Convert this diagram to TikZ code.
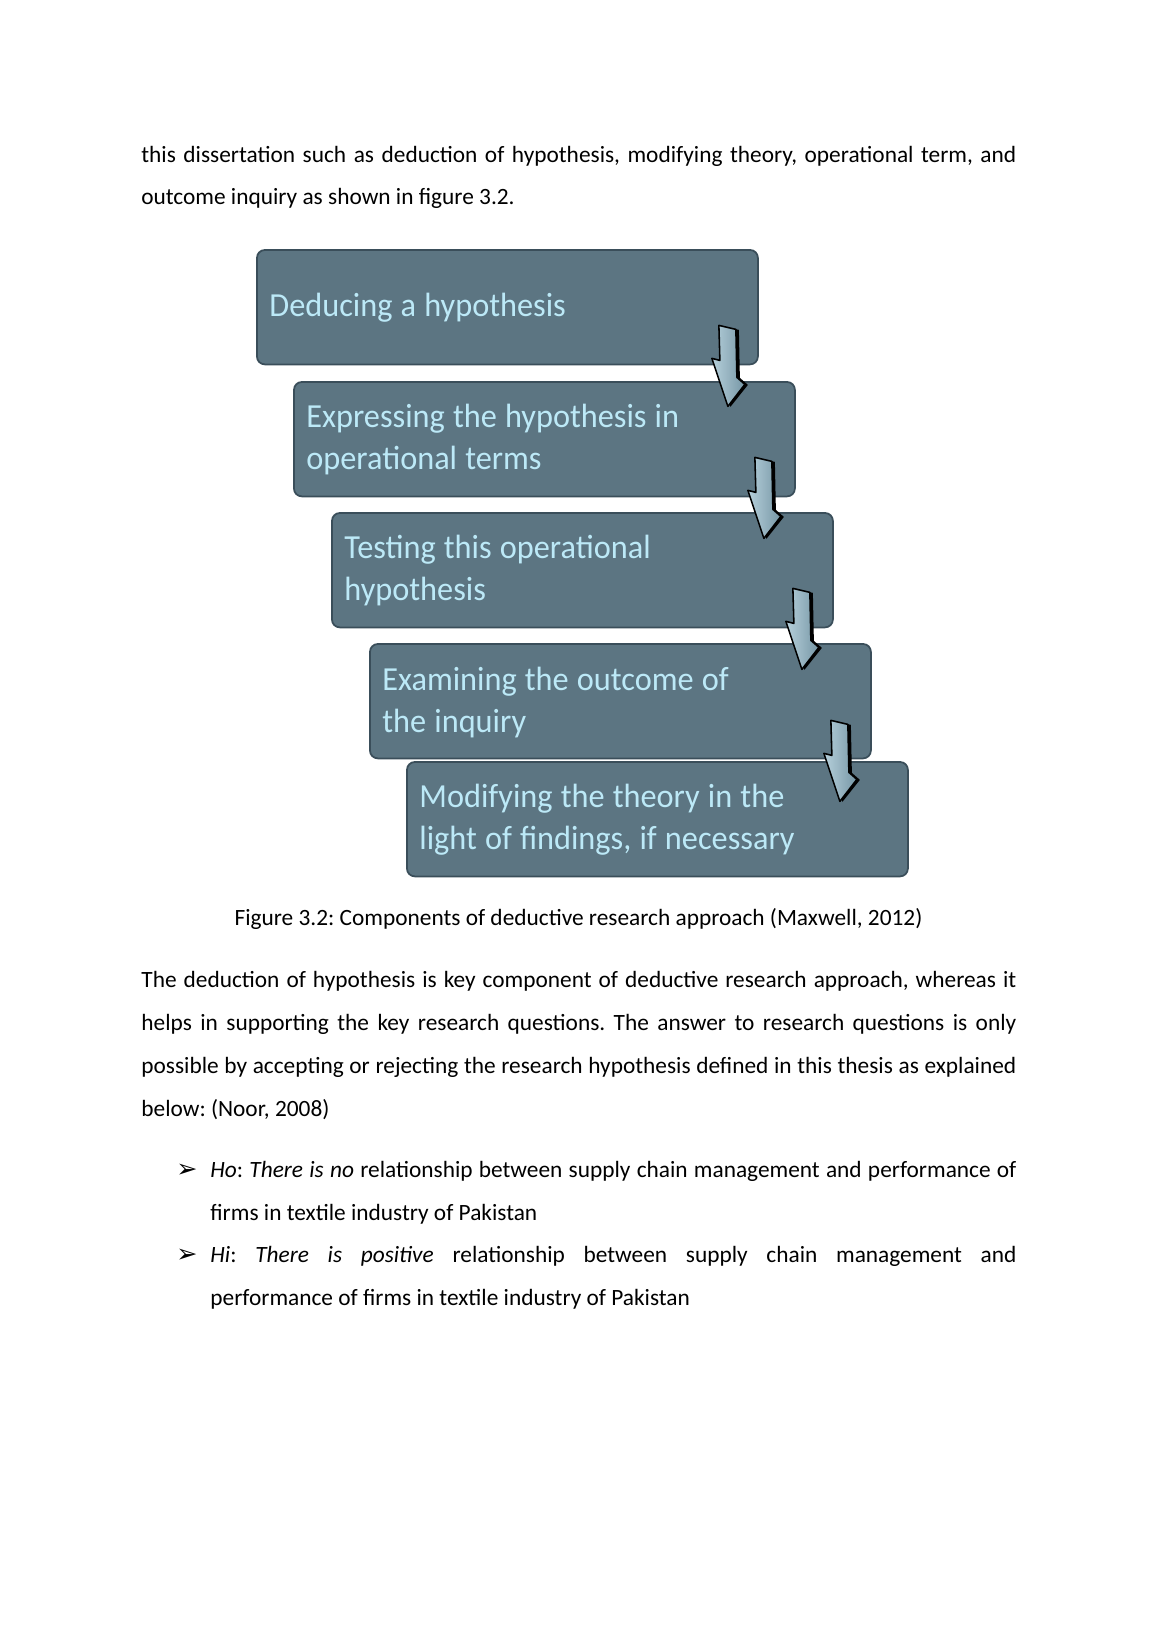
\documentclass[tikz,border=0pt]{standalone}
\usepackage{fontspec}
\setmainfont{Carlito}
\newfontfamily\boxfont[FakeStretch=0.96]{Carlito}
\newfontfamily\symfont{DejaVu Sans}
\usetikzlibrary{calc,backgrounds}
\frenchspacing
\newcommand\tightsp{\spaceskip=4.2pt plus 1pt minus 0.5pt\relax}
\definecolor{boxfill}{RGB}{92,117,130}
\definecolor{boxedge}{RGB}{58,78,90}
\definecolor{boxglow}{RGB}{135,194,216}
\definecolor{boxtext}{RGB}{188,233,247}
\definecolor{arrowlight}{RGB}{182,208,219}
\definecolor{arrowdark}{RGB}{118,150,165}
\tikzset{
  stepbox/.style={rectangle, rounded corners=4pt, inner sep=0pt, outer sep=0pt,
    minimum width=257.5pt, minimum height=58.8pt, fill=boxfill, draw=boxedge,
    line width=0.9pt, anchor=north west},
  boxtxt/.style={anchor=base west, inner sep=0pt, text=boxtext, text width=240pt,
    align=left, font=\boxfont\fontsize{17.3}{21.6}\selectfont},
  bodytxt/.style={anchor=base west, inner sep=0pt, align=justify,
    font=\fontsize{12}{22.1}\selectfont},
  bullsym/.style={anchor=base west, inner sep=0pt, font=\symfont\fontsize{13}{14}\selectfont},
  downarr/.pic={
    \fill[black] (2.5,0.5) -- (-13.5,-47.5) -- (-5.5,-45.5) -- (-6.5,-80.5) -- (11,-76.5)
      -- (12,-28.5) -- (20,-21.5) -- cycle;
    \path[left color=arrowlight, right color=arrowdark, draw=black, line width=0.8pt,
      line join=round]
      (0,0) -- (-16,-48) -- (-8,-46) -- (-9,-81) -- (8,-77) -- (9,-29) -- (17,-22) -- cycle;
  }
}
\begin{document}
\begin{tikzpicture}[x=0.5141pt, y=-0.5141pt]
\useasboundingbox (0,0) rectangle (1158,1638);
\fill[white] (0,0) rectangle (1158,1638);

% text above figure
\node[bodytxt, text width=449.8pt] (p1) at (141,162)
 {this dissertation such as deduction of hypothesis, modifying theory, operational term, and\linebreak
  outcome inquiry as shown in figure 3.2.};

% boxes
\node[stepbox] (b1) at (257,250) {};
\node[stepbox] (b2) at (294,382) {};
\node[stepbox] (b3) at (332,513) {};
\node[stepbox] (b4) at (370,644) {};
\node[stepbox] (b5) at (407,762) {};

\begin{scope}[on background layer]
\foreach \b in {b1,b2,b3,b4,b5}{
  \fill[boxglow, rounded corners=5pt] ($(\b.north west)+(-3.5,-4.5)$) rectangle ($(\b.south east)+(3.5,1)$);
  \fill[boxedge!85!black, rounded corners=5pt] ($(\b.north west)+(-1,3)$) rectangle ($(\b.south east)+(1.5,3.5)$);
}
\end{scope}

% box texts
\node[boxtxt] (t1) at ($(b1.north west)+(12,66)$) {\tightsp Deducing a hypothesis};
\node[boxtxt] (t2) at ($(b2.north west)+(12,45)$) {\tightsp Expressing the hypothesis in\\operational terms};
\node[boxtxt] (t3) at ($(b3.north west)+(12,45)$) {\tightsp Testing this operational\\hypothesis};
\node[boxtxt] (t4) at ($(b4.north west)+(12,46)$) {\tightsp Examining the outcome of\\the inquiry};
\node[boxtxt] (t5) at ($(b5.north west)+(12,45)$) {\tightsp Modifying the theory in the\\light of findings, if necessary};

% arrows between boxes
\coordinate (a1) at ($(b1.south east)+(-30,42)$);
\coordinate (a2) at ($(b2.south east)+(-31,42)$);
\coordinate (a3) at ($(b3.south east)+(-31,42)$);
\coordinate (a4) at ($(b4.south east)+(-31,43)$);
\pic at (a1) {downarr};
\pic at (a2) {downarr};
\pic at (a3) {downarr};
\pic at (a4) {downarr};

% caption
\node[anchor=base, inner sep=0pt, font=\fontsize{12}{14}\selectfont] (cap) at (578.5,925)
 {Figure 3.2: Components of deductive research approach (Maxwell, 2012)};

% paragraph
\node[bodytxt, text width=449.8pt] (p2) at (141,987.5)
 {The deduction of hypothesis is key component of deductive research approach, whereas it\linebreak
  helps in supporting the key research questions. The answer to research questions is only\linebreak
  possible by accepting or rejecting the research hypothesis defined in this thesis as explained\linebreak
  below: (Noor, 2008)};

% bullets
\node[bullsym] (s1) at (176,1177) {➢};
\node[bodytxt, text width=414.4pt] (h1) at (210,1177)
 {\textit{Ho}: \textit{There is no} relationship between supply chain management and performance of\linebreak
  firms in textile industry of Pakistan};
\node[bullsym] (s2) at (176,1262.5) {➢};
\node[bodytxt, text width=414.4pt] (h2) at (210,1262.5)
 {\textit{Hi}: \textit{There is positive} relationship between supply chain management and\linebreak
  performance of firms in textile industry of Pakistan};
\end{tikzpicture}
\end{document}
